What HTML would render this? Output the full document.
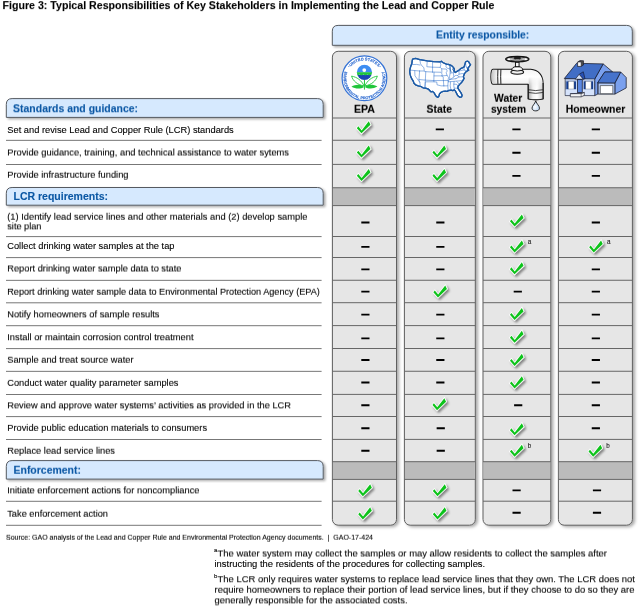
<!DOCTYPE html>
<html lang="en"><head><meta charset="utf-8"><title>Figure 3</title>
<style>
html,body{margin:0;padding:0;background:#fff;}
body{width:640px;height:607px;position:relative;overflow:hidden;font-family:"Liberation Sans",Arial,sans-serif;color:#000;}
.abs{position:absolute;}
.t{position:absolute;white-space:nowrap;line-height:12px;color:#000;-webkit-text-stroke:0.1px currentColor;}
.b{font-weight:bold;}
.sup{position:absolute;font-size:6px;line-height:6px;color:#000;-webkit-text-stroke:0.1px #000;}
.s2{font-size:6.3px;line-height:7px;color:#2a2a2a;}
.y1{filter:url(#fy1);}.y2{filter:url(#fy2);}.y3{filter:url(#fy3);}.y4{filter:url(#fy4);}.y6{filter:url(#fy6);}.y7{filter:url(#fy7);}</style></head><body><svg class="abs" width="0" height="0" style="left:0;top:0"><defs><filter id="fy1" x="-2%" y="-20%" width="104%" height="140%" color-interpolation-filters="sRGB"><feConvolveMatrix order="1 3" kernelMatrix="0 0.875 0.125" divisor="1" preserveAlpha="false" edgeMode="none"/></filter><filter id="fy2" x="-2%" y="-20%" width="104%" height="140%" color-interpolation-filters="sRGB"><feConvolveMatrix order="1 3" kernelMatrix="0 0.750 0.250" divisor="1" preserveAlpha="false" edgeMode="none"/></filter><filter id="fy3" x="-2%" y="-20%" width="104%" height="140%" color-interpolation-filters="sRGB"><feConvolveMatrix order="1 3" kernelMatrix="0 0.625 0.375" divisor="1" preserveAlpha="false" edgeMode="none"/></filter><filter id="fy4" x="-2%" y="-20%" width="104%" height="140%" color-interpolation-filters="sRGB"><feConvolveMatrix order="1 3" kernelMatrix="0 0.500 0.500" divisor="1" preserveAlpha="false" edgeMode="none"/></filter><filter id="fy6" x="-2%" y="-20%" width="104%" height="140%" color-interpolation-filters="sRGB"><feConvolveMatrix order="1 3" kernelMatrix="0 0.250 0.750" divisor="1" preserveAlpha="false" edgeMode="none"/></filter><filter id="fy7" x="-2%" y="-20%" width="104%" height="140%" color-interpolation-filters="sRGB"><feConvolveMatrix order="1 3" kernelMatrix="0 0.125 0.875" divisor="1" preserveAlpha="false" edgeMode="none"/></filter></defs></svg>

<div class="t b y1" style="left:2px;top:-1px;font-size:10.620px;transform:translateX(0.50px);letter-spacing:0.0050px;color:#000;">Figure 3: Typical Responsibilities of Key Stakeholders in Implementing the Lead and Copper Rule</div>
<svg class="abs" style="left:0;top:0" width="640" height="607" viewBox="0 0 640 607">
<defs><filter id="sh" x="-10%" y="-10%" width="130%" height="130%"><feDropShadow dx="1.8" dy="1.4" stdDeviation="1.3" flood-color="#000" flood-opacity="0.33"/></filter>
<filter id="shc" x="-30%" y="-5%" width="160%" height="110%"><feDropShadow dx="2.2" dy="1.4" stdDeviation="1.5" flood-color="#000" flood-opacity="0.33"/></filter>
<filter id="ck" x="-40%" y="-40%" width="200%" height="200%"><feDropShadow dx="1.7" dy="1.8" stdDeviation="0.9" flood-color="#000" flood-opacity="0.45"/></filter></defs>
<path d="M332.3 45.3 V31.2 Q332.3 25.4 338.1 25.4 H626.5 Q632.3 25.4 632.3 31.2 V45.3 Z" fill="#d6e9fe" stroke="#565a60" stroke-width="1" filter="url(#sh)"/>
<path d="M6.3 117.4 V104.39999999999999 Q6.3 98.6 12.1 98.6 H317.4 Q323.2 98.6 323.2 104.39999999999999 V117.4 Z" fill="#d6e9fe" stroke="#565a60" stroke-width="1" filter="url(#sh)"/>
<path d="M6.3 205.2 V193.3 Q6.3 187.5 12.1 187.5 H317.4 Q323.2 187.5 323.2 193.3 V205.2 Z" fill="#d6e9fe" stroke="#565a60" stroke-width="1" filter="url(#sh)"/>
<path d="M6.3 479.1 V466.40000000000003 Q6.3 460.6 12.1 460.6 H317.4 Q323.2 460.6 323.2 466.40000000000003 V479.1 Z" fill="#d6e9fe" stroke="#565a60" stroke-width="1" filter="url(#sh)"/>
<rect x="332.4" y="51.3" width="64.10" height="473.90" rx="5.8" fill="#e6e6e6" stroke="#5e5e5e" stroke-width="1" filter="url(#shc)"/>
<rect x="332.9" y="187.75" width="63.10" height="17.85" fill="#bbbbbb"/>
<rect x="332.9" y="461.7" width="63.10" height="17.70" fill="#bbbbbb"/>
<path d="M332.4 118.0 H396.5 M332.4 140.25 H396.5 M332.4 164.4 H396.5 M332.4 187.75 H396.5 M332.4 205.6 H396.5 M332.4 236.5 H396.5 M332.4 257.5 H396.5 M332.4 280.25 H396.5 M332.4 302.7 H396.5 M332.4 325.6 H396.5 M332.4 348.5 H396.5 M332.4 371.25 H396.5 M332.4 394.4 H396.5 M332.4 416.5 H396.5 M332.4 439.4 H396.5 M332.4 461.7 H396.5 M332.4 479.4 H396.5 M332.4 501.2 H396.5" stroke="#666" stroke-width="1" fill="none"/>
<path transform="translate(364.55 128.85)" d="M-7.7 -0.7 L-6.25 -2.5 L-2.9 1.55 L4.2 -7.6 L5.9 -4.1 L-3.1 4.45 Z" fill="#0fc31a" stroke="#fff" stroke-width="1.5" paint-order="stroke" filter="url(#ck)"/>
<path transform="translate(364.55 153.15)" d="M-7.7 -0.7 L-6.25 -2.5 L-2.9 1.55 L4.2 -7.6 L5.9 -4.1 L-3.1 4.45 Z" fill="#0fc31a" stroke="#fff" stroke-width="1.5" paint-order="stroke" filter="url(#ck)"/>
<path transform="translate(364.55 176.55)" d="M-7.7 -0.7 L-6.25 -2.5 L-2.9 1.55 L4.2 -7.6 L5.9 -4.1 L-3.1 4.45 Z" fill="#0fc31a" stroke="#fff" stroke-width="1.5" paint-order="stroke" filter="url(#ck)"/>
<path transform="translate(365.95 491.80)" d="M-7.7 -0.7 L-6.25 -2.5 L-2.9 1.55 L4.2 -7.6 L5.9 -4.1 L-3.1 4.45 Z" fill="#0fc31a" stroke="#fff" stroke-width="1.5" paint-order="stroke" filter="url(#ck)"/>
<path transform="translate(365.95 514.95)" d="M-7.7 -0.7 L-6.25 -2.5 L-2.9 1.55 L4.2 -7.6 L5.9 -4.1 L-3.1 4.45 Z" fill="#0fc31a" stroke="#fff" stroke-width="1.5" paint-order="stroke" filter="url(#ck)"/>
<path d="M361.30 222.50 h8.2 M361.30 246.90 h8.2 M361.30 269.40 h8.2 M361.30 291.60 h8.2 M361.30 314.60 h8.2 M361.30 338.40 h8.2 M361.30 360.00 h8.2 M361.30 382.50 h8.2 M361.30 405.20 h8.2 M361.30 428.20 h8.2 M361.30 450.80 h8.2" stroke="#000" stroke-width="1.9" fill="none"/>
<rect x="404.4" y="51.3" width="70.90" height="473.90" rx="5.8" fill="#e6e6e6" stroke="#5e5e5e" stroke-width="1" filter="url(#shc)"/>
<rect x="404.9" y="187.75" width="69.90" height="17.85" fill="#bbbbbb"/>
<rect x="404.9" y="461.7" width="69.90" height="17.70" fill="#bbbbbb"/>
<path d="M404.4 118.0 H475.3 M404.4 140.25 H475.3 M404.4 164.4 H475.3 M404.4 187.75 H475.3 M404.4 205.6 H475.3 M404.4 236.5 H475.3 M404.4 257.5 H475.3 M404.4 280.25 H475.3 M404.4 302.7 H475.3 M404.4 325.6 H475.3 M404.4 348.5 H475.3 M404.4 371.25 H475.3 M404.4 394.4 H475.3 M404.4 416.5 H475.3 M404.4 439.4 H475.3 M404.4 461.7 H475.3 M404.4 479.4 H475.3 M404.4 501.2 H475.3" stroke="#666" stroke-width="1" fill="none"/>
<path transform="translate(440.15 153.15)" d="M-7.7 -0.7 L-6.25 -2.5 L-2.9 1.55 L4.2 -7.6 L5.9 -4.1 L-3.1 4.45 Z" fill="#0fc31a" stroke="#fff" stroke-width="1.5" paint-order="stroke" filter="url(#ck)"/>
<path transform="translate(440.15 176.55)" d="M-7.7 -0.7 L-6.25 -2.5 L-2.9 1.55 L4.2 -7.6 L5.9 -4.1 L-3.1 4.45 Z" fill="#0fc31a" stroke="#fff" stroke-width="1.5" paint-order="stroke" filter="url(#ck)"/>
<path transform="translate(441.05 293.05)" d="M-7.7 -0.7 L-6.25 -2.5 L-2.9 1.55 L4.2 -7.6 L5.9 -4.1 L-3.1 4.45 Z" fill="#0fc31a" stroke="#fff" stroke-width="1.5" paint-order="stroke" filter="url(#ck)"/>
<path transform="translate(440.15 405.80)" d="M-7.7 -0.7 L-6.25 -2.5 L-2.9 1.55 L4.2 -7.6 L5.9 -4.1 L-3.1 4.45 Z" fill="#0fc31a" stroke="#fff" stroke-width="1.5" paint-order="stroke" filter="url(#ck)"/>
<path transform="translate(440.55 491.80)" d="M-7.7 -0.7 L-6.25 -2.5 L-2.9 1.55 L4.2 -7.6 L5.9 -4.1 L-3.1 4.45 Z" fill="#0fc31a" stroke="#fff" stroke-width="1.5" paint-order="stroke" filter="url(#ck)"/>
<path transform="translate(440.55 514.95)" d="M-7.7 -0.7 L-6.25 -2.5 L-2.9 1.55 L4.2 -7.6 L5.9 -4.1 L-3.1 4.45 Z" fill="#0fc31a" stroke="#fff" stroke-width="1.5" paint-order="stroke" filter="url(#ck)"/>
<path d="M435.75 129.40 h8.2 M436.25 222.50 h8.2 M436.25 246.90 h8.2 M436.25 269.40 h8.2 M436.25 314.60 h8.2 M436.25 338.40 h8.2 M436.25 360.00 h8.2 M436.25 382.50 h8.2 M436.65 428.20 h8.2 M436.65 450.80 h8.2" stroke="#000" stroke-width="1.9" fill="none"/>
<rect x="483" y="51.3" width="67.80" height="473.90" rx="5.8" fill="#e6e6e6" stroke="#5e5e5e" stroke-width="1" filter="url(#shc)"/>
<rect x="483.5" y="187.75" width="66.80" height="17.85" fill="#bbbbbb"/>
<rect x="483.5" y="461.7" width="66.80" height="17.70" fill="#bbbbbb"/>
<path d="M483 118.0 H550.8 M483 140.25 H550.8 M483 164.4 H550.8 M483 187.75 H550.8 M483 205.6 H550.8 M483 236.5 H550.8 M483 257.5 H550.8 M483 280.25 H550.8 M483 302.7 H550.8 M483 325.6 H550.8 M483 348.5 H550.8 M483 371.25 H550.8 M483 394.4 H550.8 M483 416.5 H550.8 M483 439.4 H550.8 M483 461.7 H550.8 M483 479.4 H550.8 M483 501.2 H550.8" stroke="#666" stroke-width="1" fill="none"/>
<path transform="translate(517.65 222.05)" d="M-7.7 -0.7 L-6.25 -2.5 L-2.9 1.55 L4.2 -7.6 L5.9 -4.1 L-3.1 4.45 Z" fill="#0fc31a" stroke="#fff" stroke-width="1.5" paint-order="stroke" filter="url(#ck)"/>
<path transform="translate(517.65 248.05)" d="M-7.7 -0.7 L-6.25 -2.5 L-2.9 1.55 L4.2 -7.6 L5.9 -4.1 L-3.1 4.45 Z" fill="#0fc31a" stroke="#fff" stroke-width="1.5" paint-order="stroke" filter="url(#ck)"/>
<path transform="translate(517.65 269.85)" d="M-7.7 -0.7 L-6.25 -2.5 L-2.9 1.55 L4.2 -7.6 L5.9 -4.1 L-3.1 4.45 Z" fill="#0fc31a" stroke="#fff" stroke-width="1.5" paint-order="stroke" filter="url(#ck)"/>
<path transform="translate(517.65 315.55)" d="M-7.7 -0.7 L-6.25 -2.5 L-2.9 1.55 L4.2 -7.6 L5.9 -4.1 L-3.1 4.45 Z" fill="#0fc31a" stroke="#fff" stroke-width="1.5" paint-order="stroke" filter="url(#ck)"/>
<path transform="translate(517.65 338.35)" d="M-7.7 -0.7 L-6.25 -2.5 L-2.9 1.55 L4.2 -7.6 L5.9 -4.1 L-3.1 4.45 Z" fill="#0fc31a" stroke="#fff" stroke-width="1.5" paint-order="stroke" filter="url(#ck)"/>
<path transform="translate(517.65 361.45)" d="M-7.7 -0.7 L-6.25 -2.5 L-2.9 1.55 L4.2 -7.6 L5.9 -4.1 L-3.1 4.45 Z" fill="#0fc31a" stroke="#fff" stroke-width="1.5" paint-order="stroke" filter="url(#ck)"/>
<path transform="translate(517.65 383.95)" d="M-7.7 -0.7 L-6.25 -2.5 L-2.9 1.55 L4.2 -7.6 L5.9 -4.1 L-3.1 4.45 Z" fill="#0fc31a" stroke="#fff" stroke-width="1.5" paint-order="stroke" filter="url(#ck)"/>
<path transform="translate(517.65 430.85)" d="M-7.7 -0.7 L-6.25 -2.5 L-2.9 1.55 L4.2 -7.6 L5.9 -4.1 L-3.1 4.45 Z" fill="#0fc31a" stroke="#fff" stroke-width="1.5" paint-order="stroke" filter="url(#ck)"/>
<path transform="translate(517.65 452.25)" d="M-7.7 -0.7 L-6.25 -2.5 L-2.9 1.55 L4.2 -7.6 L5.9 -4.1 L-3.1 4.45 Z" fill="#0fc31a" stroke="#fff" stroke-width="1.5" paint-order="stroke" filter="url(#ck)"/>
<path d="M512.35 129.40 h8.2 M512.35 152.70 h8.2 M512.35 175.90 h8.2 M513.70 291.60 h8.2 M514.10 405.20 h8.2 M512.50 490.40 h8.2 M512.50 512.80 h8.2" stroke="#000" stroke-width="1.9" fill="none"/>
<rect x="558.4" y="51.3" width="74.00" height="473.90" rx="5.8" fill="#e6e6e6" stroke="#5e5e5e" stroke-width="1" filter="url(#shc)"/>
<rect x="558.9" y="187.75" width="73.00" height="17.85" fill="#bbbbbb"/>
<rect x="558.9" y="461.7" width="73.00" height="17.70" fill="#bbbbbb"/>
<path d="M558.4 118.0 H632.4 M558.4 140.25 H632.4 M558.4 164.4 H632.4 M558.4 187.75 H632.4 M558.4 205.6 H632.4 M558.4 236.5 H632.4 M558.4 257.5 H632.4 M558.4 280.25 H632.4 M558.4 302.7 H632.4 M558.4 325.6 H632.4 M558.4 348.5 H632.4 M558.4 371.25 H632.4 M558.4 394.4 H632.4 M558.4 416.5 H632.4 M558.4 439.4 H632.4 M558.4 461.7 H632.4 M558.4 479.4 H632.4 M558.4 501.2 H632.4" stroke="#666" stroke-width="1" fill="none"/>
<path transform="translate(596.85 248.05)" d="M-7.7 -0.7 L-6.25 -2.5 L-2.9 1.55 L4.2 -7.6 L5.9 -4.1 L-3.1 4.45 Z" fill="#0fc31a" stroke="#fff" stroke-width="1.5" paint-order="stroke" filter="url(#ck)"/>
<path transform="translate(596.25 452.25)" d="M-7.7 -0.7 L-6.25 -2.5 L-2.9 1.55 L4.2 -7.6 L5.9 -4.1 L-3.1 4.45 Z" fill="#0fc31a" stroke="#fff" stroke-width="1.5" paint-order="stroke" filter="url(#ck)"/>
<path d="M591.75 129.40 h8.2 M591.75 152.70 h8.2 M591.75 175.90 h8.2 M591.75 222.50 h8.2 M591.75 269.40 h8.2 M591.75 291.60 h8.2 M591.75 314.60 h8.2 M591.75 338.40 h8.2 M591.75 360.00 h8.2 M591.75 382.50 h8.2 M591.75 405.20 h8.2 M591.75 428.20 h8.2 M592.90 490.40 h8.2 M592.90 512.80 h8.2" stroke="#000" stroke-width="1.9" fill="none"/>
<path d="M6 140.35 H321.6 M6 164.50 H321.6 M6 236.60 H321.6 M6 257.60 H321.6 M6 280.35 H321.6 M6 302.80 H321.6 M6 325.70 H321.6 M6 348.60 H321.6 M6 371.35 H321.6 M6 394.50 H321.6 M6 416.60 H321.6 M6 439.50 H321.6 M6 501.30 H321.6 M6 525.30 H321.6" stroke="#777" stroke-width="1" fill="none"/>
</svg>
<div class="t b y4" style="left:436px;top:29px;font-size:10.367px;letter-spacing:0.0038px;color:#0b57a4;">Entity responsible:</div>
<div class="t b y2" style="left:13px;top:103px;font-size:10.456px;transform:translateX(0.10px);letter-spacing:0.0097px;color:#0b57a4;">Standards and guidance:</div>
<svg class="abs" style="left:339px;top:53px;overflow:visible" width="50" height="50" viewBox="-25 -25 50 50"><g transform="translate(0.45 0.3)">
<circle cx="0" cy="0" r="22.35" fill="#fff" stroke="#3573d6" stroke-width="1.2"/>
<defs>
<path id="epaT" d="M -17.9 0 A 17.9 17.9 0 0 1 17.9 0"/>
<path id="epaB" d="M 0 -21.0 A 21.0 21.0 0 1 0 0 21.0 A 21.0 21.0 0 1 0 0 -21.0"/>
</defs>
<text font-family="'Liberation Sans',Arial,sans-serif" font-weight="bold" font-size="4" fill="#2a68cf" stroke="#2a68cf" stroke-width="0.1" text-anchor="middle"><textPath href="#epaT" startOffset="50%">UNITED STATES</textPath></text>
<text font-family="'Liberation Sans',Arial,sans-serif" font-weight="bold" font-size="4" fill="#2a68cf" stroke="#2a68cf" stroke-width="0.1" text-anchor="middle"><textPath href="#epaB" startOffset="50%">ENVIRONMENTAL PROTECTION AGENCY</textPath></text>
<circle cx="-15.6" cy="-11.8" r="0.55" fill="#2f6fd2"/><circle cx="15.6" cy="-11.8" r="0.55" fill="#2f6fd2"/>
<clipPath id="epaG"><circle cx="0" cy="-6" r="7.6"/></clipPath>
<g clip-path="url(#epaG)">
<rect x="-8" y="-14" width="16" height="8.2" fill="#3d8df2"/>
<rect x="-8" y="-3.6" width="16" height="6" fill="#1b45b5"/>
<path d="M-8 -6 H8 V-3.4 Q7 -4.2 6 -3.4 Q5 -2.6 4 -3.4 Q3 -4.2 2 -3.4 Q1 -2.6 0 -3.4 Q-1 -4.2 -2 -3.4 Q-3 -2.6 -4 -3.4 Q-5 -4.2 -6 -3.4 Q-7 -2.6 -8 -3.4 Z" fill="#1fc63a"/>
</g>
<circle cx="-0.2" cy="-8.2" r="1.9" fill="#fff"/>
<path d="M0 1.5 V11.3" stroke="#1fc63a" stroke-width="1" fill="none"/>
<path d="M-0.4 7.6 C-3 2 -7.5 -1.2 -12.9 -2.2 C-11.5 2.6 -7 6.6 -0.4 7.6 Z" fill="#fff" stroke="#1fc63a" stroke-width="0.9" stroke-linejoin="round"/>
<path d="M0.4 7.6 C3 2 7.5 -1.2 12.9 -2.2 C11.5 2.6 7 6.6 0.4 7.6 Z" fill="#fff" stroke="#1fc63a" stroke-width="0.9" stroke-linejoin="round"/>
<path d="M-0.3 8.6 C-4 5.6 -9 6 -13 8.4 C-9 10.6 -4 10.8 -0.3 8.6 Z" fill="#1fc63a"/>
<path d="M0.3 8.6 C4 5.6 9 6 13 8.2 C9 10.6 4 10.8 0.3 8.6 Z" fill="#1fc63a"/>
</g></svg>

<div class="t b y6" style="left:354px;top:102px;font-size:10.606px;letter-spacing:0.0108px;color:#000;">EPA</div>
<svg class="abs" style="left:406px;top:54px;overflow:visible" width="68" height="48" viewBox="0 0 640 452">
<path d="M62 48 L90 42 L130 52 L200 64 L260 72 L320 74 L333 68 L345 80 L380 96 L400 98 L418 104 L432 112 L446 126 L455 142 L452 160 L463 174 L480 164 L500 150 L520 135 L545 124 L554 100 L560 76 L574 68 L590 72 L598 90 L608 100 L596 116 L586 130 L580 146 L590 152 L576 160 L560 172 L550 186 L545 200 L540 215 L547 230 L535 250 L525 266 L505 286 L490 305 L488 322 L502 342 L518 366 L528 388 L524 404 L506 408 L486 390 L474 366 L466 350 L455 338 L440 345 L425 340 L400 345 L385 352 L370 350 L350 352 L330 360 L315 376 L310 396 L300 408 L285 400 L275 385 L265 366 L250 352 L235 356 L225 346 L210 330 L185 322 L160 318 L140 306 L115 300 L90 290 L75 275 L68 255 L55 235 L45 215 L38 190 L35 165 L38 140 L45 115 L55 90 L58 65 Z" fill="#fff" stroke="#1b5aa6" stroke-width="12" stroke-linejoin="round"/>
<g fill="none" stroke="#3f7bcf" stroke-width="5.4" stroke-linejoin="round" stroke-linecap="round">
<path d="M52 100 L100 98 L132 104"/>
<path d="M40 152 L82 156 L128 160"/>
<path d="M130 52 L136 90 L150 112 L168 128 L172 160"/>
<path d="M128 160 L172 160 L178 166 L250 170"/>
<path d="M82 156 L84 205 L130 268 L135 300"/>
<path d="M128 160 L122 240 L130 268"/>
<path d="M122 240 L182 246 L186 166"/>
<path d="M182 246 L178 320"/>
<path d="M182 246 L262 250 L264 172"/>
<path d="M200 64 L196 120 L250 124 L250 170"/>
<path d="M250 72 L250 124"/>
<path d="M250 124 L322 126 L328 100 L320 74"/>
<path d="M250 170 L330 172 L340 190 L338 206"/>
<path d="M264 206 L338 206 L350 214 L352 250"/>
<path d="M262 250 L352 250 L356 300"/>
<path d="M262 250 L262 262 L290 264 L292 290 L330 300 L356 300"/>
<path d="M178 320 L182 262 L262 262"/>
<path d="M322 126 L336 140 L380 142 L388 160 L378 176 L386 200 L400 222 L396 250"/>
<path d="M336 140 L338 172"/>
<path d="M338 206 L386 202"/>
<path d="M352 250 L396 250 L400 262"/>
<path d="M356 300 L394 300 L396 262 L400 250 L412 240 L470 232"/>
<path d="M394 300 L396 340 L424 340"/>
<path d="M380 96 L376 120 L388 134 L412 140 L416 180 L410 210 L412 240"/>
<path d="M412 140 L416 112"/>
<path d="M416 180 L446 176 L452 160"/>
<path d="M446 176 L450 214 L440 226 L412 240"/>
<path d="M450 214 L470 200 L486 204 L500 190 L498 160"/>
<path d="M486 204 L500 216 L540 215"/>
<path d="M470 232 L500 216"/>
<path d="M400 262 L470 256 L535 250"/>
<path d="M420 262 L416 300 L424 340"/>
<path d="M452 258 L450 300 L456 338"/>
<path d="M450 284 L478 286 L490 305"/>
<path d="M456 322 L485 322"/>
<path d="M478 260 L505 286"/>
<path d="M498 160 L545 150 L576 160"/>
<path d="M545 124 L548 150"/>
<path d="M500 190 L530 184 L550 186"/>
<path d="M560 76 L566 120 L580 146"/>
<path d="M566 120 L586 130"/>
</g>
<path d="M62 48 L90 42 L130 52 L200 64 L260 72 L320 74 L333 68 L345 80 L380 96 L400 98 L418 104 L432 112 L446 126 L455 142 L452 160 L463 174 L480 164 L500 150 L520 135 L545 124 L554 100 L560 76 L574 68 L590 72 L598 90 L608 100 L596 116 L586 130 L580 146 L590 152 L576 160 L560 172 L550 186 L545 200 L540 215 L547 230 L535 250 L525 266 L505 286 L490 305 L488 322 L502 342 L518 366 L528 388 L524 404 L506 408 L486 390 L474 366 L466 350 L455 338 L440 345 L425 340 L400 345 L385 352 L370 350 L350 352 L330 360 L315 376 L310 396 L300 408 L285 400 L275 385 L265 366 L250 352 L235 356 L225 346 L210 330 L185 322 L160 318 L140 306 L115 300 L90 290 L75 275 L68 255 L55 235 L45 215 L38 190 L35 165 L38 140 L45 115 L55 90 L58 65 Z" fill="none" stroke="#1b5aa6" stroke-width="12" stroke-linejoin="round"/>
<path d="M400 98 L414 118 L418 150 L424 170 M446 126 L440 150 L452 160" fill="none" stroke="#1c5eab" stroke-width="8" stroke-linejoin="round" stroke-linecap="round"/>
</svg>

<div class="t b y6" style="left:426px;top:103px;font-size:10.429px;transform:translateX(0.50px);letter-spacing:0.0129px;color:#000;">State</div>
<svg class="abs" style="left:484px;top:52px;overflow:visible" width="68" height="64" viewBox="0 0 640 602">
<defs>
<linearGradient id="fH" x1="0" y1="0" x2="0" y2="1"><stop offset="0" stop-color="#f4f4f4"/><stop offset="0.25" stop-color="#ffffff"/><stop offset="0.7" stop-color="#e4e4e4"/><stop offset="1" stop-color="#a0a0a0"/></linearGradient>
<linearGradient id="fV" x1="0" y1="0" x2="1" y2="0"><stop offset="0" stop-color="#b0b0b0"/><stop offset="0.3" stop-color="#f2f2f2"/><stop offset="0.6" stop-color="#ffffff"/><stop offset="1" stop-color="#d0d0d0"/></linearGradient>
<linearGradient id="fL" x1="0" y1="0" x2="1" y2="0"><stop offset="0" stop-color="#c4c4c4"/><stop offset="1" stop-color="#c4c4c4" stop-opacity="0"/></linearGradient>
<radialGradient id="fD" cx="0.4" cy="0.6" r="0.7"><stop offset="0" stop-color="#ffffff"/><stop offset="1" stop-color="#a9cdf3"/></radialGradient>
<linearGradient id="fMg" x1="0" y1="0" x2="0" y2="1"><stop offset="0" stop-color="#000"/><stop offset="0.45" stop-color="#fff"/></linearGradient>
<mask id="fM"><rect x="400" y="232" width="170" height="232" fill="url(#fMg)"/></mask>
</defs>
<!-- pipe body -->
<path d="M84 162 H440 C510 167 556 217 556 292 V441 Q486 459 416 441 V303 H84 C58 303 58 162 84 162 Z" fill="url(#fH)" stroke="#111" stroke-width="9.5" stroke-linejoin="round"/>
<path d="M421 232 H551 V441 Q486 457 421 441 Z" fill="url(#fV)" mask="url(#fM)"/>
<path d="M416 303 V441 Q486 459 556 441 V292" fill="none" stroke="#111" stroke-width="9.5" stroke-linejoin="round"/>
<path d="M86 168 C68 172 68 293 86 298 H128 V168 Z" fill="url(#fL)"/>
<!-- bands -->
<path d="M131 165 Q127 232 131 300 M159 165 Q155 232 159 300" fill="none" stroke="#111" stroke-width="9"/>
<path d="M418 355 Q486 371 554 355 M418 381 Q486 397 554 381" fill="none" stroke="#111" stroke-width="7"/>
<!-- bonnet -->
<ellipse cx="313" cy="189" rx="60" ry="20" fill="#dedede" stroke="#111" stroke-width="10"/>
<ellipse cx="313" cy="186" rx="40" ry="9" fill="#fbfbfb"/>
<path d="M260 172 C260 150 280 140 296 138 H330 C346 140 366 150 366 172 Q313 186 260 172 Z" fill="#e8e8e8" stroke="#111" stroke-width="9" stroke-linejoin="round"/>
<ellipse cx="313" cy="158" rx="30" ry="9" fill="#fff"/>
<!-- stem -->
<rect x="296" y="96" width="34" height="42" fill="#f6f6f6" stroke="#111" stroke-width="9"/>
<!-- handle wheel -->
<g transform="translate(0 4.5)"><ellipse cx="314" cy="62" rx="110" ry="26" fill="#9a9a9a" stroke="#111" stroke-width="12"/>
<path d="M222 62 L296 52 L296 72 Z M406 62 L332 52 L332 72 Z" fill="#d8d8d8"/>
<ellipse cx="232" cy="63" rx="15" ry="10" fill="#fff"/><ellipse cx="396" cy="63" rx="15" ry="10" fill="#fff"/>
<path d="M214 56 Q232 44 262 42 M214 68 Q232 80 262 82 M414 56 Q396 44 366 42 M414 68 Q396 80 366 82" stroke="#111" stroke-width="5" fill="none"/>
<path d="M250 46 L300 58 M250 78 L300 66 M378 46 L328 58 M378 78 L328 66" stroke="#222" stroke-width="6" fill="none"/>
<ellipse cx="314" cy="52" rx="34" ry="12" fill="#1c1c1c"/>
<rect x="296" y="62" width="36" height="16" fill="#8a8a8a"/>
</g>
<!-- drop -->
<path d="M487 460 C478 490 452 506 452 528 C452 546 468 554 487 554 C506 554 522 546 522 528 C522 506 496 490 487 460 Z" fill="url(#fD)" stroke="#111" stroke-width="8" stroke-linejoin="round"/>
</svg>

<div class="t b y6" style="left:494px;top:92px;font-size:10.292px;transform:translateX(0.10px);letter-spacing:0.0063px;color:#000;">Water</div>
<div class="t b y6" style="left:490px;top:103px;font-size:10.189px;transform:translateX(0.90px);letter-spacing:0.0113px;color:#000;">system</div>
<div class="sup s2" style="left:527.75px;top:238.45px">a</div>
<div class="sup s2" style="left:527.75px;top:442.45px">b</div>
<svg class="abs" style="left:558px;top:52px;overflow:visible" width="68" height="64" viewBox="0 0 640 602">
<g stroke="#14182a" stroke-width="7" stroke-linejoin="round">
<!-- garage side wall -->
<path d="M535 292 L590 188 L642 240 V338 L535 396 Z" fill="#7aa0ee"/>
<!-- main house right gable wall -->
<path d="M345 255 L425 112 L515 188 L440 188 L375 290 V396 L345 410 Z" fill="#7aa0ee"/>
<!-- garage front -->
<path d="M378 290 H535 V396 H378 Z" fill="#b4cbf6"/>
<path d="M398 316 H516 V392 H398 Z" fill="#ffffff" stroke="#333" stroke-width="6"/>
<!-- garage roof -->
<path d="M372 290 L440 188 L590 188 L535 292 Z" fill="#4673cc"/>
<!-- front wall -->
<path d="M68 252 H345 V410 H68 Z" fill="#c3d6f8"/>
<!-- main roof -->
<path d="M59 250 L175 106 L425 112 L345 255 Z" fill="#416ec6"/>
</g>
<rect x="72" y="352" width="269" height="54" fill="#d6e3fb"/>
<rect x="72" y="256" width="269" height="14" fill="#aab8d4"/>
<!-- chimney -->
<path d="M185 94 L207 80 L240 82 L240 122 L218 135 H185 Z" fill="#4a4a4a" stroke="#14182a" stroke-width="6" stroke-linejoin="round"/>
<path d="M185 94 H218 V135 H185 Z" fill="#fafafa" stroke="#14182a" stroke-width="5" stroke-linejoin="round"/>
<!-- windows -->
<g stroke="none">
<rect x="78" y="276" width="20" height="74" fill="#143c8e"/>
<rect x="151" y="276" width="18" height="74" fill="#143c8e"/>
<rect x="100" y="280" width="50" height="68" fill="#fff" stroke="#555" stroke-width="3"/>
<rect x="242" y="276" width="18" height="74" fill="#143c8e"/>
<rect x="312" y="276" width="18" height="74" fill="#143c8e"/>
<rect x="262" y="280" width="49" height="68" fill="#fff" stroke="#555" stroke-width="3"/>
</g>
<!-- porch gable -->
<path d="M199 210 L238 186 L254 252 L236 256 Z" fill="#2750b4" stroke="#14182a" stroke-width="6" stroke-linejoin="round"/>
<path d="M162 256 L199 210 L238 256 Z" fill="#d6e4fb" stroke="#14182a" stroke-width="6" stroke-linejoin="round"/>
<!-- door -->
<rect x="184" y="260" width="44" height="120" fill="#5c88e2" stroke="#14182a" stroke-width="7"/>
<!-- steps -->
<path d="M116 392 L218 388 L248 380 V408 L218 422 H116 Z" fill="#f4f4f4" stroke="#14182a" stroke-width="6" stroke-linejoin="round"/>
<path d="M116 392 H218 L248 380 M218 390 V422" stroke="#14182a" stroke-width="5" fill="none"/>
</svg>

<div class="t b y6" style="left:565px;top:103px;font-size:10.410px;transform:translateX(0.70px);letter-spacing:0.0023px;color:#000;">Homeowner</div>
<div class="sup s2" style="left:606.95px;top:238.45px">a</div>
<div class="sup s2" style="left:606.35px;top:442.45px">b</div>
<div class="t" style="left:7px;top:124px;font-size:9.302px;transform:translateX(0.25px);letter-spacing:0.0024px;">Set and revise Lead and Copper Rule (LCR) standards</div>
<div class="t y4" style="left:7px;top:146px;font-size:9.300px;transform:translateX(0.25px);letter-spacing:0.0016px;">Provide guidance, training, and technical assistance to water sytems</div>
<div class="t y6" style="left:7px;top:168px;font-size:9.281px;transform:translateX(0.25px);letter-spacing:0.0063px;">Provide infrastructure funding</div>
<div class="t b" style="left:13px;top:190px;font-size:10.500px;transform:translateX(0.50px);color:#0b57a4;">LCR requirements:</div>
<div class="t y6" style="left:7px;top:210px;font-size:9.310px;transform:translateX(0.25px);letter-spacing:0.0056px;">(1) Identify lead service lines and other materials and (2) develop sample</div>
<div class="t y3" style="left:7px;top:220px;font-size:9.195px;transform:translateX(0.25px);letter-spacing:0.0016px;">site plan</div>
<div class="t" style="left:7px;top:240px;font-size:9.287px;transform:translateX(0.25px);letter-spacing:0.0092px;">Collect drinking water samples at the tap</div>
<div class="t y4" style="left:7px;top:262px;font-size:9.274px;transform:translateX(0.25px);letter-spacing:0.0034px;">Report drinking water sample data to state</div>
<div class="t y6" style="left:7px;top:285px;font-size:9.134px;transform:translateX(0.25px);letter-spacing:0.0041px;">Report drinking water sample data to Environmental Protection Agency (EPA)</div>
<div class="t y3" style="left:7px;top:308px;font-size:9.286px;transform:translateX(0.25px);letter-spacing:0.0099px;">Notify homeowners of sample results</div>
<div class="t y2" style="left:7px;top:331px;font-size:9.308px;transform:translateX(0.25px);letter-spacing:0.0046px;">Install or maintain corrosion control treatment</div>
<div class="t y6" style="left:7px;top:353px;font-size:9.269px;transform:translateX(0.25px);letter-spacing:0.0096px;">Sample and treat source water</div>
<div class="t y7" style="left:7px;top:376px;font-size:9.279px;transform:translateX(0.25px);letter-spacing:0.0066px;">Conduct water quality parameter samples</div>
<div class="t y3" style="left:7px;top:399px;font-size:9.293px;transform:translateX(0.25px);letter-spacing:0.0051px;">Review and approve water systems’ activities as provided in the LCR</div>
<div class="t y7" style="left:7px;top:421px;font-size:9.286px;transform:translateX(0.25px);letter-spacing:0.0098px;">Provide public education materials to consumers</div>
<div class="t y6" style="left:7px;top:444px;font-size:9.273px;transform:translateX(0.25px);letter-spacing:0.0028px;">Replace lead service lines</div>
<div class="t b y6" style="left:13px;top:464px;font-size:10.473px;transform:translateX(0.50px);letter-spacing:0.0019px;color:#0b57a4;">Enforcement:</div>
<div class="t y3" style="left:7px;top:484px;font-size:9.296px;transform:translateX(0.25px);letter-spacing:0.0070px;">Initiate enforcement actions for noncompliance</div>
<div class="t y6" style="left:7px;top:507px;font-size:9.247px;transform:translateX(0.25px);letter-spacing:0.0065px;">Take enforcement action</div>
<div class="t y6" style="left:6px;top:531px;font-size:7.004px;letter-spacing:0.0018px;">Source: GAO analysis of the Lead and Copper Rule and Environmental Protection Agency documents.&nbsp; |&nbsp; GAO-17-424</div>
<div class="sup" style="left:214.0px;top:547.4px;">a</div>
<div class="t y4" style="left:217px;top:547px;font-size:9.442px;transform:translateX(0.60px);letter-spacing:0.0022px;">The water system may collect the samples or may allow residents to collect the samples after</div>
<div class="t" style="left:214px;top:558px;font-size:9.401px;transform:translateX(0.50px);letter-spacing:0.0044px;">instructing the residents of the procedures for collecting samples.</div>
<div class="sup" style="left:214.1px;top:573.3px;">b</div>
<div class="t y2" style="left:217px;top:573px;font-size:9.450px;transform:translateX(0.60px);letter-spacing:0.0057px;">The LCR only requires water systems to replace lead service lines that they own. The LCR does not</div>
<div class="t y6" style="left:214px;top:583px;font-size:9.433px;transform:translateX(0.50px);letter-spacing:-0.0021px;">require homeowners to replace their portion of lead service lines, but if they choose to do so they are</div>
<div class="t y3" style="left:214px;top:594px;font-size:9.410px;transform:translateX(0.50px);letter-spacing:0.0017px;">generally responsible for the associated costs.</div>
</body></html>
